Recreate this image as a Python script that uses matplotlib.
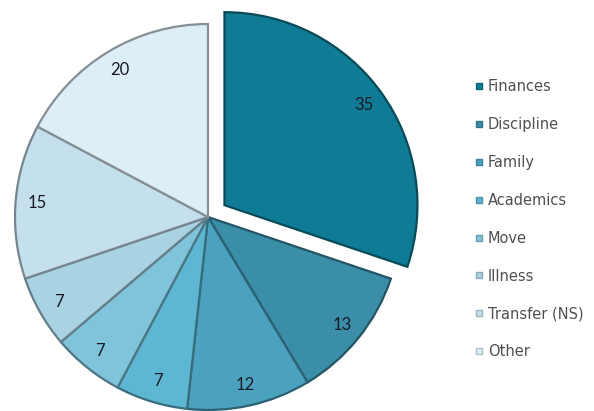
import matplotlib.pyplot as plt
from matplotlib.colors import to_rgb

# reasons and counts, clockwise from 12 o'clock
reasons = ['Finances', 'Discipline', 'Family', 'Academics', 'Move',
           'Illness', 'Transfer (NS)', 'Other']
counts = [35, 13, 12, 7, 7, 7, 15, 20]
colors = ['#0f7b94', '#3a8ea8', '#4aa2bf', '#5db6d2', '#80c4dc',
          '#a9d2e3', '#c4e0ec', '#ddeef6']
explode = [0.105, 0, 0, 0, 0, 0, 0, 0]


def darker(c, f=0.6):
    r, g, b = to_rgb(c)
    return (r * f, g * f, b * f)


W, H = 594, 411
cx, cy, R = 208, 217, 193   # pie centre / radius in pixels

fig = plt.figure(figsize=(W / 100, H / 100), dpi=100)
ax = fig.add_axes([0, 0, 1, 1])

wedges, texts = ax.pie(counts, labels=[str(c) for c in counts], colors=colors,
                       explode=explode, startangle=90, counterclock=False,
                       labeldistance=0.89,
                       textprops=dict(fontsize=12, family='Lato', color='#1a1a24'))
for w, c in zip(wedges, colors):
    w.set_edgecolor(darker(c))
    w.set_linewidth(1.6)
for t in texts:
    t.set_ha('center')
    t.set_va('center')

ax.set_xlim(-cx / R, (W - cx) / R)
ax.set_ylim(-(H - cy) / R, cy / R)
ax.set_aspect('equal')
ax.axis('off')

handles = [plt.Line2D([], [], marker='s', linestyle='', markersize=3.8,
                      markerfacecolor=c, markeredgecolor=darker(c, 0.8))
           for c in colors]
leg = ax.legend(handles, reasons, loc='upper left',
                bbox_to_anchor=(461 / W, 1 - 66 / H),
                bbox_transform=fig.transFigure, frameon=False,
                handlelength=0.6, handletextpad=0.35, labelspacing=1.57,
                prop=dict(family='DejaVu Sans', size=10.5))
for t in leg.get_texts():
    t.set_color('#505050')

fig.savefig('out.png', dpi=100)
